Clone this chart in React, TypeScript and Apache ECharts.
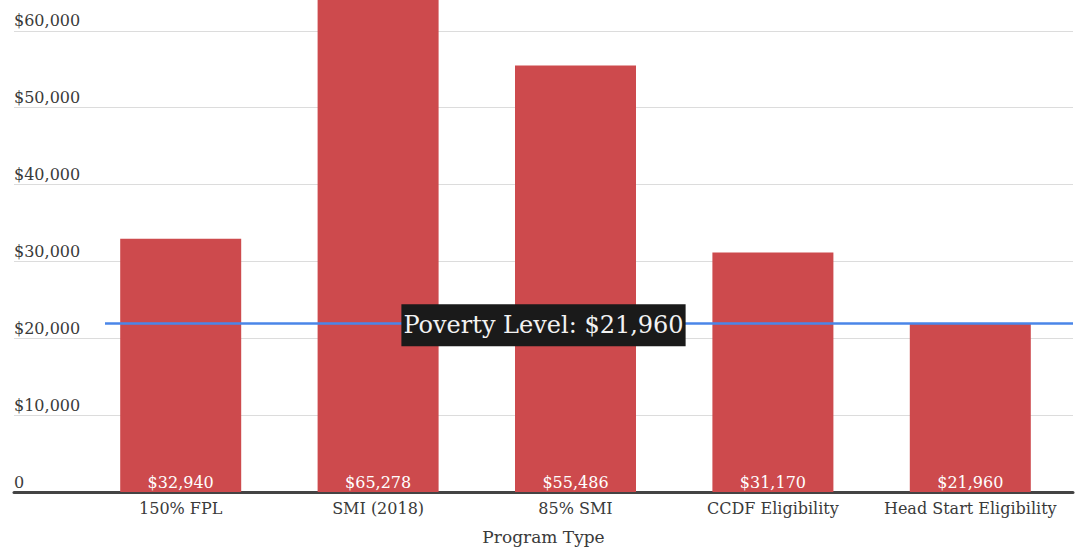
import React, { useEffect, useRef } from "react";
import * as echarts from "echarts";

const categories = ["150% FPL", "SMI (2018)", "85% SMI", "CCDF Eligibility", "Head Start Eligibility"];
const values = [32940, 65278, 55486, 31170, 21960];
const povertyLevel = 21960;
const yTicks = [0, 10000, 20000, 30000, 40000, 50000, 60000, 70000];
const lastVisibleTick = 60000;

const FONT = "DejaVu Serif";
const money = (v: number) => "$" + v.toLocaleString("en-US");

const OFFSET = 46; // chart canvas extends above the visible page

export default function App() {
  const ref = useRef<HTMLDivElement>(null);
  useEffect(() => {
    const chart = echarts.init(ref.current!, null, { renderer: "svg" });
    const yMin = yTicks[0];
    const yMax = yTicks[yTicks.length - 1];
    const interval = yTicks[1] - yTicks[0];
    chart.setOption({
      animation: false,
      textStyle: { fontFamily: FONT },
      grid: [
        { left: 14, right: 6, top: 0, bottom: 58, outerBoundsMode: "none", containLabel: false },
        { left: 82, right: 10, top: 0, bottom: 58, outerBoundsMode: "none", containLabel: false },
      ],
      xAxis: [
        {
          gridIndex: 0,
          type: "value",
          min: 0,
          max: 1,
          axisLine: { show: true, lineStyle: { color: "#444", width: 3 } },
          axisTick: { show: false },
          axisLabel: { show: false },
          splitLine: { show: false },
          name: "Program Type",
          nameLocation: "middle",
          nameGap: 36,
          nameTextStyle: { fontFamily: FONT, fontSize: 17, color: "#3a3a3a" },
        },
        {
          gridIndex: 1,
          type: "category",
          data: categories,
          axisLine: { show: false },
          axisTick: { show: false },
          axisLabel: { fontFamily: FONT, fontSize: 16, color: "#3a3a3a", margin: 8, interval: 0 },
        },
      ],
      yAxis: [
        {
          gridIndex: 0,
          type: "value",
          min: yMin,
          max: yMax,
          interval,
          axisLine: { show: false },
          axisTick: { show: false },
          axisLabel: {
            inside: true,
            margin: 0,
            verticalAlign: "bottom",
            fontFamily: FONT,
            fontSize: 16,
            color: "#3a3a3a",
            padding: [0, 0, 2, 0],
            formatter: (v: number) => (v === 0 ? "0" : v > lastVisibleTick ? "" : money(v)),
          },
          splitLine: { lineStyle: { color: "#dcdcdc", width: 1 } },
        },
        {
          gridIndex: 1,
          type: "value",
          min: yMin,
          max: yMax,
          interval,
          show: false,
          splitLine: { show: false },
        },
      ],
      series: [
        {
          type: "bar",
          xAxisIndex: 1,
          yAxisIndex: 1,
          data: values,
          barWidth: 121,
          itemStyle: { color: "#cd4a4d" },
          label: {
            show: true,
            position: "insideBottom",
            distance: 2,
            color: "#fff",
            fontFamily: FONT,
            fontSize: 16,
            formatter: (p: any) => money(p.value),
          },
          z: 2,
        },
        {
          type: "line",
          xAxisIndex: 0,
          yAxisIndex: 0,
          data: [],
          z: 5,
          markLine: {
            silent: true,
            symbol: "none",
            data: [
              [
                { coord: [0, povertyLevel], x: 105 },
                { coord: [1, povertyLevel], x: 1073 },
              ],
              [
                {
                  coord: [0, povertyLevel],
                  lineStyle: { color: "transparent", width: 0 },
                  label: {
                    show: true,
                    position: "middle",
                    distance: 0,
                    offset: [0, 23],
                    formatter: "Poverty Level: " + money(povertyLevel),
                    fontFamily: FONT,
                    fontSize: 24,
                    color: "#f2f2f2",
                    backgroundColor: "#1a1a1a",
                    padding: [9, 2],
                  },
                },
                { coord: [1, povertyLevel] },
              ],
            ],
            lineStyle: { color: "#4a86e8", width: 2.5, type: "solid" },
            label: { show: false },
          },
        },
      ],
    });
    return () => chart.dispose();
  }, []);
  return (
    <div
      ref={ref}
      style={{
        position: "fixed",
        left: 0,
        top: -OFFSET,
        width: 1079,
        height: 550 + OFFSET,
        background: "#fff",
      }}
    />
  );
}
